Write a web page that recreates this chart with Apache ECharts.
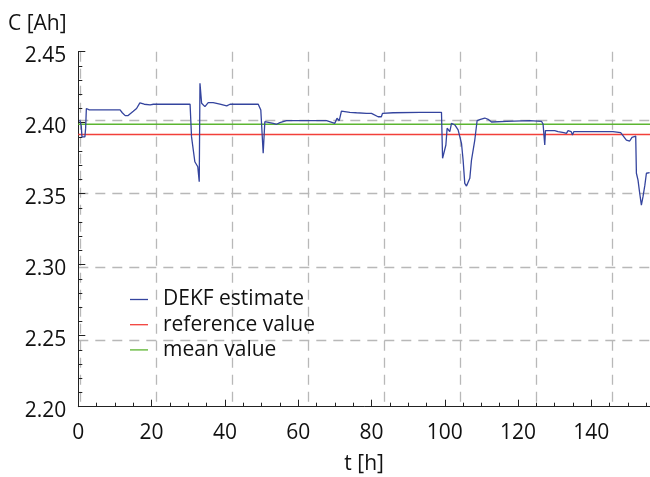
<!DOCTYPE html>
<html>
<head>
<meta charset="utf-8">
<script src="https://cdn.jsdelivr.net/npm/echarts@6/dist/echarts.min.js"></script>
<style>html,body{margin:0;padding:0;background:#fff;}#chart{width:650px;height:477px;}</style>
</head>
<body>
<div id="chart"></div>
<script>
// ---- data ----
const dekfT = [0.4, 0.8, 1.0, 1.8, 2.0, 2.2, 3.0, 11.4, 12.0, 12.8, 13.6, 15.0, 15.9, 16.8, 18.0, 19.6, 20.5, 30.5, 30.9, 31.8, 32.6, 33.0, 33.2, 33.65, 34.55, 35.45, 36.8, 38.65, 40.5, 41.0, 41.4, 49.1, 49.8, 50.2, 50.45, 50.9, 53.2, 54.1, 55.0, 56.8, 67.75, 68.2, 70.0, 70.6, 71.2, 71.8, 74.1, 75.9, 78.65, 79.1, 80.0, 80.45, 81.8, 82.7, 83.0, 85.9, 93.2, 99.1, 99.4, 100.3, 100.64, 101.18, 101.37, 101.84, 102.74, 103.64, 104.56, 105.0, 105.46, 105.93, 106.83, 107.29, 108.19, 108.82, 109.36, 109.74, 110.92, 111.82, 112.75, 116.84, 123.19, 126.38, 126.82, 127.28, 127.47, 130.0, 130.9, 132.5, 133.2, 133.64, 134.5, 134.84, 135.2, 145.9, 148.0, 149.56, 150.46, 151.09, 152.1, 152.29, 152.73, 153.19, 153.65, 154.09, 154.6, 155.02, 155.9];
const dekfC = [2.402, 2.398, 2.390, 2.390, 2.396, 2.410, 2.409, 2.409, 2.407, 2.405, 2.405, 2.408, 2.410, 2.414, 2.413, 2.4125, 2.413, 2.413, 2.390, 2.3725, 2.369, 2.3585, 2.4277, 2.4137, 2.4113, 2.4141, 2.4141, 2.413, 2.4118, 2.4113, 2.413, 2.413, 2.4089, 2.4077, 2.3785, 2.4007, 2.3996, 2.3989, 2.4000, 2.4014, 2.4014, 2.4003, 2.3996, 2.4031, 2.4014, 2.4082, 2.4073, 2.4070, 2.4066, 2.4077, 2.4066, 2.4054, 2.4042, 2.4042, 2.4066, 2.4070, 2.4073, 2.4073, 2.3749, 2.3843, 2.3961, 2.3972, 2.3937, 2.3996, 2.3984, 2.3949, 2.3855, 2.3737, 2.3573, 2.3554, 2.3608, 2.3737, 2.3878, 2.4014, 2.4007, 2.4024, 2.4033, 2.4024, 2.4005, 2.4010, 2.4014, 2.4010, 2.3991, 2.3843, 2.3944, 2.3944, 2.3937, 2.3930, 2.3925, 2.3944, 2.3937, 2.3913, 2.3937, 2.3937, 2.3930, 2.3878, 2.3871, 2.3897, 2.3906, 2.3644, 2.3596, 2.3503, 2.3420, 2.3479, 2.3560, 2.3644, 2.3648];
const referenceValue = 2.3917;
const meanValue = 2.3989;
const seriesNames = ['DEKF estimate', 'reference value', 'mean value'];
const xRange = [0, 156];
const yRange = [2.20, 2.45];

// ---- build ----
const FONT = '"Open Sans", "DejaVu Sans", sans-serif';
const dekfData = dekfT.map((t, i) => [t, dekfC[i]]);
const refData = [[xRange[0], referenceValue], [xRange[1], referenceValue]];
const meanData = [[xRange[0], meanValue], [xRange[1], meanValue]];

const gridDash = { show: true, lineStyle: { color: '#b8b8b8', width: 1.3, type: [10, 7] }, showMinLine: false, showMaxLine: false };
const hidden = { axisLine: { show: false, onZero: false }, axisTick: { show: false }, axisLabel: { show: false }, splitLine: { show: false } };

const chart = echarts.init(document.getElementById('chart'), null, { renderer: 'canvas' });
chart.setOption({
  animation: false,
  backgroundColor: '#ffffff',
  title: {
    text: 'C [Ah]', left: 8, top: 14, padding: 0,
    textStyle: { fontFamily: FONT, fontSize: 21, fontWeight: 'normal', color: '#111' }
  },
  legend: {
    data: seriesNames, orient: 'vertical', left: 130, top: 289, padding: 0,
    icon: 'rect', itemWidth: 18, itemHeight: 1.3, itemGap: 4.2,
    textStyle: { fontFamily: FONT, fontSize: 21, color: '#111', lineHeight: 21, padding: [0, 0, 0, 10] }
  },
  grid: { left: 78.3, right: 0, top: 51.7, bottom: 70.3, containLabel: false, outerBoundsMode: 'none' },
  xAxis: [
    {
      type: 'value', min: xRange[0], max: xRange[1], interval: 20, position: 'bottom',
      name: 't [h]', nameLocation: 'middle', nameGap: 47,
      nameTextStyle: { fontFamily: FONT, fontSize: 21, color: '#111' },
      axisLine: { show: true, onZero: false, lineStyle: { color: '#222', width: 1 } },
      axisTick: { show: true, inside: true, length: 7, lineStyle: { color: '#222' } },
      axisLabel: { fontFamily: FONT, fontSize: 21, color: '#111', margin: 16, showMaxLabel: false },
      splitLine: { show: false }
    },
    {
      type: 'value', min: xRange[0], max: xRange[1], interval: 5, position: 'bottom',
      axisLine: { show: false, onZero: false }, axisLabel: { show: false }, splitLine: { show: false },
      axisTick: { show: true, inside: true, length: 4, lineStyle: { color: '#222' } }
    },
    Object.assign({}, hidden, {
      type: 'value', min: -0.022, max: 7.5, minInterval: 1, maxInterval: 1, position: 'bottom',
      splitLine: gridDash
    })
  ],
  yAxis: [
    {
      type: 'value', min: yRange[0], max: yRange[1], interval: 0.05, position: 'left',
      axisLine: { show: true, onZero: false, lineStyle: { color: '#222', width: 1 } },
      axisTick: { show: true, inside: true, length: 7, lineStyle: { color: '#222' } },
      axisLabel: {
        fontFamily: FONT, fontSize: 21, color: '#111', margin: 12,
        formatter: v => '{v|' + v.toFixed(2) + '}',
        rich: { v: { fontFamily: FONT, fontSize: 21, color: '#111', padding: [8, 0, 0, 0] } }
      },
      splitLine: { show: false }
    },
    {
      type: 'value', min: yRange[0], max: yRange[1], interval: 0.01, position: 'left',
      axisLine: { show: false, onZero: false }, axisLabel: { show: false }, splitLine: { show: false },
      axisTick: { show: true, inside: true, length: 4, lineStyle: { color: '#222' } }
    },
    Object.assign({}, hidden, {
      type: 'value', min: -0.9, max: 3.93, minInterval: 1, maxInterval: 1, position: 'left',
      splitLine: gridDash
    })
  ],
  series: [
    {
      name: seriesNames[0], type: 'line', data: dekfData, showSymbol: false, symbol: 'none', z: 5,
      lineStyle: { color: '#34449e', width: 1.3 }, itemStyle: { color: '#34449e' }
    },
    {
      name: seriesNames[1], type: 'line', data: refData, showSymbol: false, symbol: 'none', z: 3,
      lineStyle: { color: '#f2403a', width: 1.3 }, itemStyle: { color: '#f2403a' }
    },
    {
      name: seriesNames[2], type: 'line', data: meanData, showSymbol: false, symbol: 'none', z: 3,
      lineStyle: { color: '#5cb531', width: 1.3 }, itemStyle: { color: '#5cb531' }
    }
  ]
});
</script>
</body>
</html>
